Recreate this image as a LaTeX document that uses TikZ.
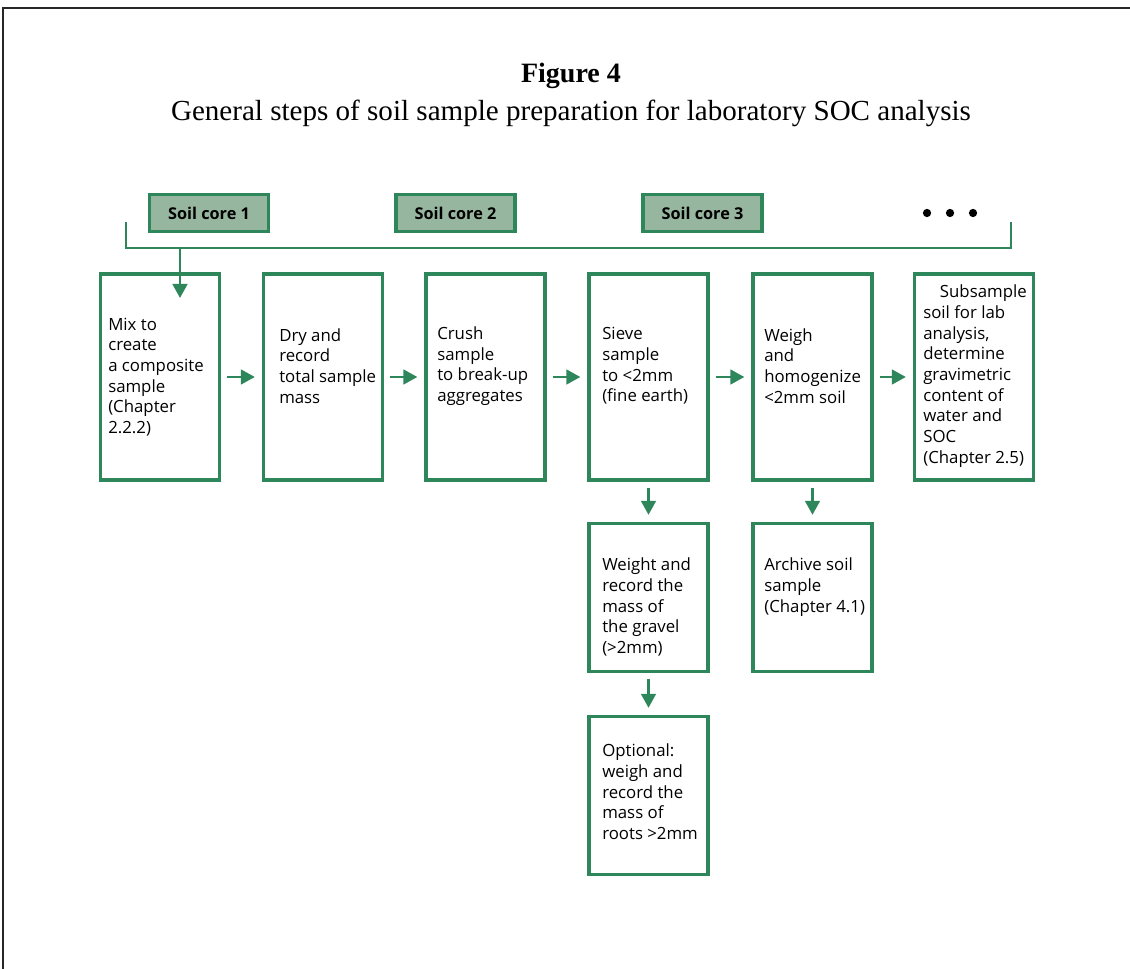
\documentclass[tikz,border=0pt]{standalone}
\usepackage{fontspec}
\setmainfont{Liberation Serif}
\newfontfamily\boxfont{Open Sans}
\usetikzlibrary{arrows.meta}
\definecolor{fgreen}{RGB}{46,135,90}
\definecolor{corefill}{RGB}{151,182,159}
\begin{document}
\begin{tikzpicture}[x=0.75pt,y=-0.75pt,
  stepbox/.style={draw=fgreen,line width=2.6pt,fill=white,minimum width=89.25pt,inner sep=0pt},
  corebox/.style={draw=fgreen,line width=2.6pt,fill=corefill,minimum width=89.25pt,minimum height=27.75pt,inner sep=0pt,
     font=\boxfont\bfseries\fontsize{12.2pt}{14pt}\selectfont},
  txt/.style={anchor=west,inner sep=0pt,align=left,font=\boxfont\fontsize{12.6pt}{15.5pt}\selectfont},
  flow/.style={draw=fgreen,line width=2pt,-{Triangle[length=10.5pt,width=11pt]},shorten <=4.5pt,shorten >=5.2pt},
  bracket/.style={draw=fgreen,line width=1.4pt}
]
\useasboundingbox (0,0) rectangle (1130,969);
% frame
\draw[line width=1.1pt,black!85] (3,969) -- (3,8) -- (1130,8);
% title
\node[font=\bfseries\fontsize{21pt}{24pt}\selectfont] (fig) at (571,76) {Figure 4};
\node[font=\fontsize{21.8pt}{24pt}\selectfont] (sub) at (571,113) {General steps of soil sample preparation for laboratory SOC analysis};
% soil cores
\node[corebox] (c1) at (209,213) {Soil core 1};
\node[corebox] (c2) at (455.5,213) {Soil core 2};
\node[corebox] (c3) at (702.5,213) {Soil core 3};
\fill (927,213) circle (3.1pt) (950,213) circle (3.1pt) (973,213) circle (3.1pt);
% bracket
\coordinate (bl) at (126,222);
\coordinate (br) at (1011,222);
\coordinate (bj) at (180,248);
\coordinate (btip) at (180,298);
\draw[bracket] (bl) |- (br |- bj) -- (br);
% main row
\node[stepbox,minimum height=154.5pt] (A) at (160,377) {};
\node[stepbox,minimum height=154.5pt] (B) at (323,377) {};
\node[stepbox,minimum height=154.5pt] (C) at (485.5,377) {};
\node[stepbox,minimum height=154.5pt] (D) at (648.5,377) {};
\node[stepbox,minimum height=154.5pt] (E) at (812.5,377) {};
\node[stepbox,minimum height=154.5pt] (F) at (974,377) {};
% lower
\node[stepbox,minimum height=111pt] (G) at (648.5,597.5) {};
\node[stepbox,minimum height=111pt] (H) at (812.5,597.5) {};
\node[stepbox,minimum height=118.5pt] (I) at (648.5,795.5) {};
% texts
\node[txt] (tA) at (108,377) {Mix to\\create\\a composite\\sample\\(Chapter\\2.2.2)};
\node[txt] (tB) at (279,366) {Dry and\\record\\total sample\\mass};
\node[txt] (tC) at (437,366) {Crush\\sample\\to break-up\\aggregates};
\node[txt] (tD) at (602,366) {Sieve\\sample\\to {<}2mm\\(fine earth)};
\node[txt] (tE) at (764,366) {Weigh\\and\\homogenize\\{<}2mm soil};
\node[txt] (tF) at (923,376) {\hspace*{12.5pt}Subsample\\soil for lab\\analysis,\\determine\\gravimetric\\content of\\water and\\SOC\\(Chapter 2.5)};
\node[txt] (tG) at (602,607) {Weight and\\record the\\mass of\\the gravel\\({>}2mm)};
\node[txt] (tH) at (764,587) {Archive soil\\sample\\(Chapter 4.1)};
\node[txt] (tI) at (602,792) {Optional:\\weigh and\\record the\\mass of\\roots {>}2mm};
% arrows
\draw[flow,shorten <=0pt,shorten >=0pt] (bj) -- (btip);
\draw[flow] (A) -- (B);
\draw[flow] (B) -- (C);
\draw[flow] (C) -- (D);
\draw[flow] (D) -- (E);
\draw[flow] (E) -- (F);
\draw[flow] (D) -- (G);
\draw[flow] (G) -- (I);
\draw[flow] (E) -- (H);
\end{tikzpicture}
\end{document}
